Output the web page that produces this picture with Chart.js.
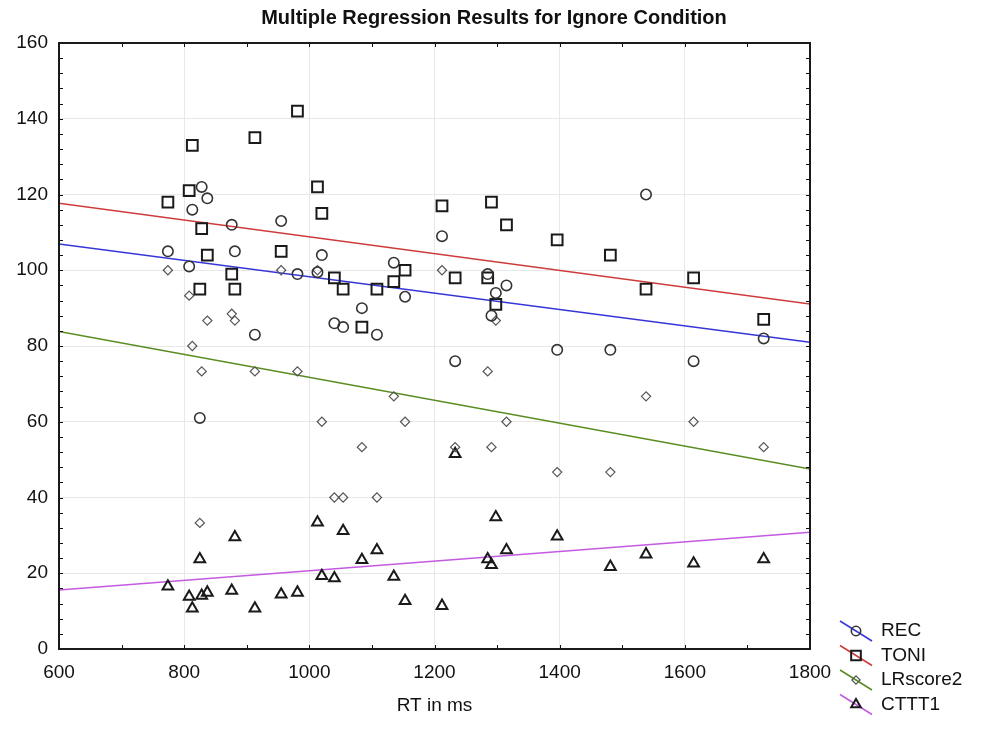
<!DOCTYPE html>
<html>
<head>
<meta charset="utf-8">
<title>Multiple Regression Results for Ignore Condition</title>
<script src="https://cdn.jsdelivr.net/npm/chart.js@4.4.1/dist/chart.umd.min.js"></script>
<style>
  html, body { margin: 0; padding: 0; background: #fff; }
</style>
</head>
<body>
<canvas id="regChart" width="981" height="729"></canvas>
<script>
// one entry per subject
const rt       = [774, 808, 813, 825, 828, 837, 876, 881, 913, 955, 981, 1013, 1020, 1040, 1054,
                  1084, 1108, 1135, 1153, 1212, 1233, 1285, 1291, 1298, 1315, 1396, 1481, 1538, 1614, 1726];
const rec      = [105, 101, 116, 61, 122, 119, 112, 105, 83, 113, 99, 99.5, 104, 86, 85,
                  90, 83, 102, 93, 109, 76, 99, 88, 94, 96, 79, 79, 120, 76, 82];
const toni     = [118, 121, 133, 95, 111, 104, 99, 95, 135, 105, 142, 122, 115, 98, 95,
                  85, 95, 97, 100, 117, 98, 98, 118, 91, 112, 108, 104, 95, 98, 87];
const lrscore2 = [100, 93.3, 80, 33.3, 73.3, 86.7, 88.5, 86.7, 73.3, 100, 73.3, 100, 60, 40, 40,
                  53.3, 40, 66.7, 60, 100, 53.3, 73.3, 53.3, 86.7, 60, 46.7, 46.7, 66.7, 60, 53.3];
const cttt1    = [16.5, 13.8, 10.7, 23.7, 14.1, 14.9, 15.4, 29.5, 10.7, 14.4, 14.9, 33.4, 19.3, 18.7, 31.2,
                  23.5, 26.1, 19.1, 12.7, 11.4, 51.5, 23.7, 22.2, 34.8, 26.1, 29.7, 21.7, 25, 22.6, 23.7];

// fitted regression lines, read at the axis ends
const fitX    = [600, 1800];
const recFit  = [106.9, 81.0];
const toniFit = [117.7, 91.1];
const lrFit   = [83.8, 47.5];
const ctttFit = [15.6, 30.8];

const FONT = "'Liberation Sans', Arial, Helvetica, sans-serif";

const toPoints = (ys) => rt.map((x, i) => ({ x, y: ys[i] }));
const toLine = (ys) => fitX.map((x, i) => ({ x, y: ys[i] }));

const series = [
    { label: "REC",      values: rec,      fit: recFit,  color: "#3636d8", marker: "circle",   edge: "#333", size: 5.2, width: 1.6 },
    { label: "TONI",     values: toni,     fit: toniFit, color: "#cf3b3b", marker: "rect",     edge: "#1a1a1a", size: 7.6, width: 2 },
    { label: "LRscore2", values: lrscore2, fit: lrFit,   color: "#5a8c22", marker: "rectRot",  edge: "#555", size: 4.6, width: 1.2 },
    { label: "CTTT1",    values: cttt1,    fit: ctttFit, color: "#c45ae0", marker: "triangle", edge: "#1a1a1a", size: 6.2, width: 2 }
];

const datasets = [];
series.forEach((s) => {
    datasets.push({
        type: "line",
        label: s.label + " fit",
        data: toLine(s.fit),
        borderColor: s.color,
        borderWidth: 1.5,
        pointRadius: 0,
        fill: false,
        order: 2
    });
    datasets.push({
        type: "scatter",
        label: s.label,
        data: toPoints(s.values),
        pointStyle: s.marker,
        pointRadius: s.size,
        pointHoverRadius: s.size,
        pointBorderColor: s.edge,
        pointBackgroundColor: "rgba(255,255,255,0)",
        pointBorderWidth: s.width,
        order: 1
    });
});

// frame, inward ticks, title and the legend to the lower right
const decorations = {
    id: "decorations",
    afterDraw(chart) {
        const { ctx, chartArea: a, scales: { x, y } } = chart;
        ctx.save();
        ctx.strokeStyle = "#111";
        ctx.lineWidth = 1;
        ctx.beginPath();
        for (let v = x.min; v <= x.max; v += 100) {
            const px = Math.round(x.getPixelForValue(v)) + 0.5;
            ctx.moveTo(px, a.bottom); ctx.lineTo(px, a.bottom - 4);
            ctx.moveTo(px, a.top); ctx.lineTo(px, a.top + 4);
        }
        for (let v = y.min; v <= y.max; v += 4) {
            const py = Math.round(y.getPixelForValue(v)) + 0.5;
            ctx.moveTo(a.left, py); ctx.lineTo(a.left + 4, py);
            ctx.moveTo(a.right, py); ctx.lineTo(a.right - 4, py);
        }
        ctx.stroke();

        ctx.lineWidth = 2;
        ctx.strokeStyle = "#1a1a1a";
        ctx.strokeRect(a.left, a.top, a.right - a.left, a.bottom - a.top);

        ctx.fillStyle = "#111";
        ctx.font = "bold 20px " + FONT;
        ctx.textAlign = "center";
        ctx.textBaseline = "middle";
        ctx.fillText("Multiple Regression Results for Ignore Condition", 494, 18);

        ctx.font = "19px " + FONT;
        ctx.textAlign = "left";
        series.forEach((s, i) => {
            const cy = 631 + i * 24.5;
            const cx = 856;
            ctx.strokeStyle = s.color;
            ctx.lineWidth = 1.5;
            ctx.beginPath();
            ctx.moveTo(cx - 16, cy - 10);
            ctx.lineTo(cx + 16, cy + 10);
            ctx.stroke();
            ctx.strokeStyle = s.edge;
            ctx.fillStyle = "rgba(255,255,255,0)";
            ctx.lineWidth = s.width;
            if (Chart.helpers && Chart.helpers.drawPoint) {
                Chart.helpers.drawPoint(ctx, { pointStyle: s.marker, radius: s.size * 0.9, rotation: 0, borderWidth: s.width }, cx, cy);
            }
            ctx.fillStyle = "#111";
            ctx.fillText(s.label, 881, cy);
        });
        ctx.restore();
    }
};

const config = {
    type: "scatter",
    data: { datasets },
    plugins: [decorations],
    options: {
        responsive: false,
        animation: false,
        events: [],
        layout: { padding: { left: 0, top: 43, right: 171, bottom: 0 } },
        plugins: {
            legend: { display: false },
            title: { display: false },
            tooltip: { enabled: false }
        },
        scales: {
            x: {
                type: "linear",
                min: 600,
                max: 1800,
                afterFit: (scale) => { scale.height = 80; },
                ticks: { stepSize: 200, color: "#111", padding: 12, font: { family: FONT, size: 19 }, callback: (v) => String(v) },
                grid: { color: "#e8e8e8", lineWidth: 1, drawTicks: false },
                border: { display: false },
                title: { display: true, text: "RT in ms", color: "#111", font: { family: FONT, size: 19 }, padding: { top: 0, bottom: 12 } }
            },
            y: {
                type: "linear",
                min: 0,
                max: 160,
                afterFit: (scale) => { scale.width = 59; },
                ticks: { stepSize: 20, color: "#111", padding: 11, font: { family: FONT, size: 19 }, callback: (v) => String(v) },
                grid: { color: "#e8e8e8", lineWidth: 1, drawTicks: false },
                border: { display: false }
            }
        }
    }
};

const regChart = new Chart(document.getElementById("regChart"), config);
</script>
</body>
</html>
